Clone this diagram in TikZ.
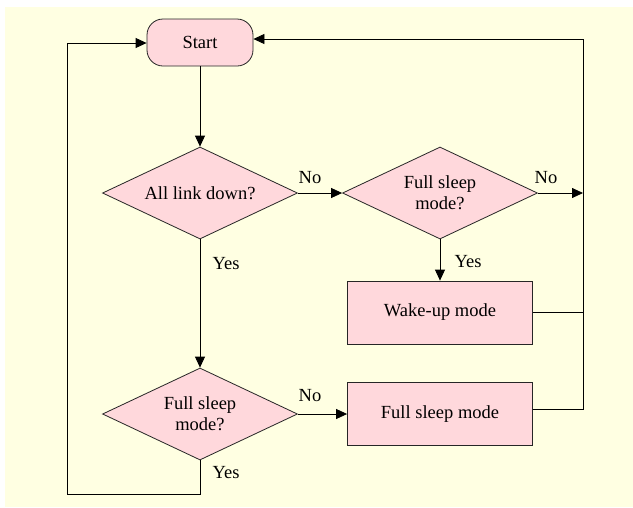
\documentclass[tikz,border=0pt]{standalone}
\usepackage{fontspec}
\setmainfont{Liberation Serif}
\usetikzlibrary{shapes.geometric,arrows.meta}
\definecolor{bgyellow}{RGB}{255,255,226}
\definecolor{boxpink}{RGB}{255,216,220}
\begin{document}
\begin{tikzpicture}
      [x=1pt, y=-1pt,
      every node/.style={font=\fontsize{18.5}{21}\selectfont},
      block/.style={rectangle, draw=black!85, fill=boxpink, minimum width=185pt, minimum height=63pt, inner sep=0pt},
      decision/.style={diamond, draw=black!85, fill=boxpink, minimum width=195pt, minimum height=92pt, inner sep=0pt, aspect=2.1, align=center},
      terminal/.style={rectangle, rounded corners=16pt, draw=black!85, fill=boxpink, minimum width=106pt, minimum height=47pt, inner sep=0pt},
      flow/.style={-{Triangle[length=11pt,width=10pt]}},
      lbl/.style={inner sep=1pt},
      line width=0.8pt,
      ]
      \fill[bgyellow] (5,7) rectangle (633,507);
      \useasboundingbox (0,0) rectangle (633,507);
      \node[terminal] (start) at (200,42.5) {Start};
      \node[decision] (linkdown) at (200,193) {All link down?};
      \node[decision] (sleepq) at (440,193) {Full sleep\\mode?};
      \node[block] (wakeup) at (440,312.5) {Wake-up mode};
      \node[decision] (sleepq2) at (200,414) {Full sleep\\mode?};
      \node[block] (fullsleep) at (440,414) {Full sleep mode};
      \coordinate (rtop) at (583,39);
      \coordinate (rno) at (583,193);
      \coordinate (rwake) at (583,312.5);
      \coordinate (rsleep) at (583,409);
      \coordinate (lbot) at (200,494);
      \coordinate (lcorner) at (67,494);
      \coordinate (ltop) at (67,43);
      \draw[flow] (start) -- (linkdown);
      \draw[flow] (linkdown.east) -- (sleepq.west);
      \draw[flow] (sleepq.east) -- (rno);
      \draw[flow] (sleepq.south) -- (wakeup.north);
      \draw[flow] (linkdown.south) -- (sleepq2.north);
      \draw[flow] (sleepq2.east) -- (fullsleep.west);
      \draw (wakeup.east) -- (rwake);
      \draw[flow] (fullsleep.east |- rsleep) -- (rsleep) -- (rtop) -- (start.east |- rtop);
      \draw[flow] (sleepq2.south) -- (lbot) -- (lcorner) -- (ltop) -- (start.west |- ltop);
      \node[lbl] (no1) at (310,178) {No};
      \node[lbl] (no2) at (546,178) {No};
      \node[lbl] (yes1) at (468,262) {Yes};
      \node[lbl] (yes2) at (226,264) {Yes};
      \node[lbl] (no3) at (310,396) {No};
      \node[lbl] (yes3) at (226,473) {Yes};
\end{tikzpicture}
\end{document}
